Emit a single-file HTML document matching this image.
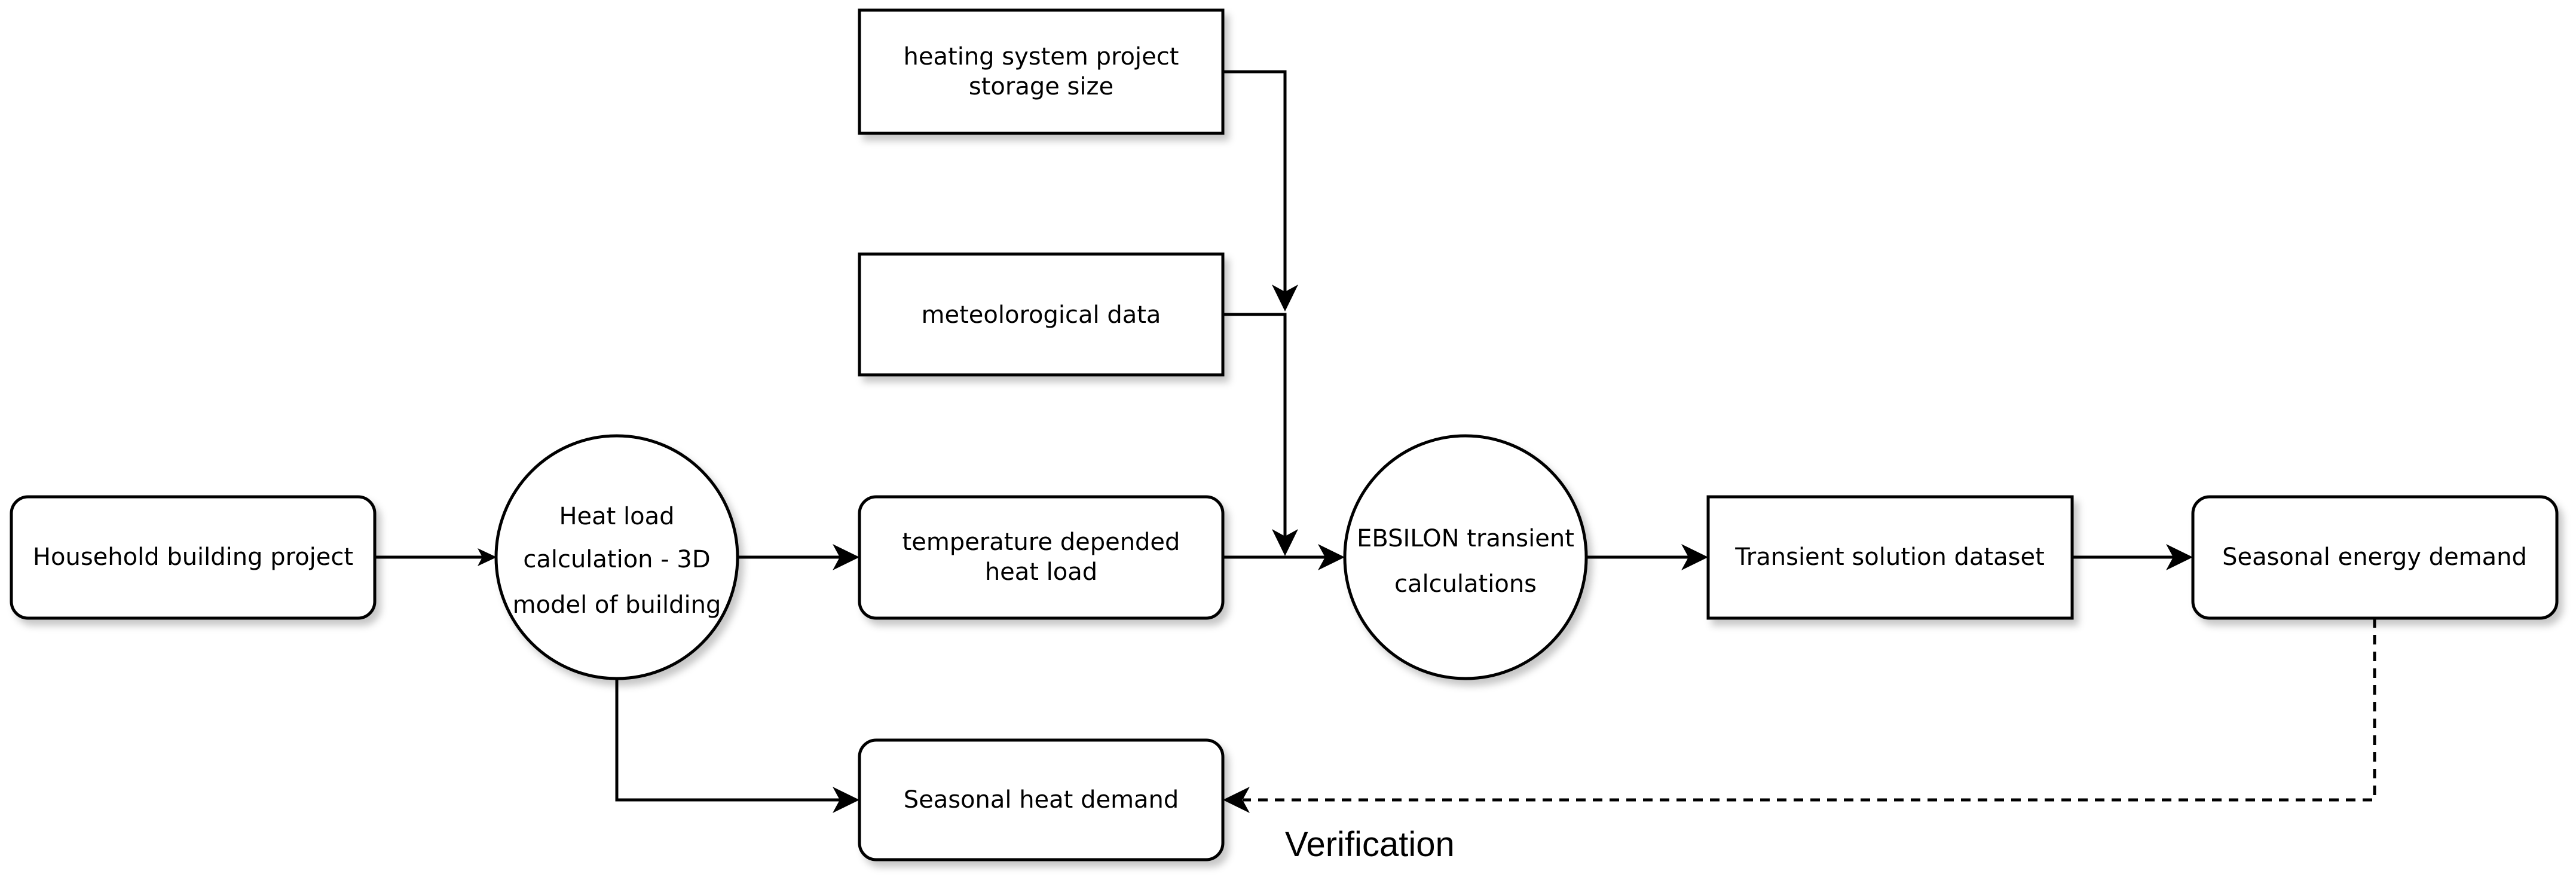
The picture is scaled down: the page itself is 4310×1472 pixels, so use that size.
<!DOCTYPE html>
<html><head><meta charset="utf-8"><style>html,body{margin:0;padding:0;background:#fff}svg{display:block}</style></head>
<body>
<svg width="4310" height="1472" viewBox="0 0 4310 1472" xmlns="http://www.w3.org/2000/svg">
<defs>
<filter id="sh" x="-10%" y="-10%" width="130%" height="140%"><feDropShadow dx="8" dy="10" stdDeviation="6" flood-color="#000" flood-opacity="0.22"/></filter>
<marker id="ar" markerWidth="12" markerHeight="10" refX="10" refY="5" orient="auto" markerUnits="userSpaceOnUse" viewBox="0 0 12 10" style="overflow:visible">
</marker>
</defs>
<g fill="#fff" stroke="#000" stroke-width="5" filter="url(#sh)">
<rect x="19" y="831" width="608" height="203" rx="28"/>
<ellipse cx="1032" cy="932" rx="202" ry="203"/>
<rect x="1438" y="831" width="608" height="203" rx="28"/>
<rect x="1438" y="17" width="608" height="206"/>
<rect x="1438" y="425" width="608" height="202"/>
<rect x="1438" y="1238" width="608" height="200" rx="28"/>
<ellipse cx="2452" cy="932" rx="202" ry="203"/>
<rect x="2858" y="831" width="609" height="203"/>
<rect x="3669" y="831" width="609" height="203" rx="28"/>
</g>
<g fill="none" stroke="#000" stroke-width="5">
<path d="M627 932H810"/>
<path d="M1234 932H1405"/>
<path d="M2046 932H2218"/>
<path d="M2654 932H2825"/>
<path d="M3467 932H3636"/>
<path d="M2046 120H2150V488"/>
<path d="M2046 526H2150V897"/>
<path d="M1032 1135V1338H1405"/>
<path d="M3973 1034V1338H2080" stroke-dasharray="16 12"/>
</g>
<g fill="#000">
<path d="M831 932l-32 -15 8 15 -8 15z"/>
<path d="M1438 932l-45 -22 12 22 -12 22z"/>
<path d="M2250 932l-45 -22 12 22 -12 22z"/>
<path d="M2858 932l-45 -22 12 22 -12 22z"/>
<path d="M3669 932l-45 -22 12 22 -12 22z"/>
<path d="M2150 521l-22 -45 22 12 22 -12z"/>
<path d="M2150 930l-22 -45 22 12 22 -12z"/>
<path d="M1438 1338l-45 -22 12 22 -12 22z"/>
<path d="M2046 1338l45 -22 -12 22 12 22z"/>
</g>
<g font-family="'DejaVu Sans',sans-serif" font-size="40" text-anchor="middle" fill="#000">
<text x="323" y="945">Household building project</text>
<text x="1032" y="877">Heat load</text>
<text x="1032" y="949">calculation - 3D</text>
<text x="1032" y="1025">model of building</text>
<text x="1742" y="920">temperature depended</text>
<text x="1742" y="970">heat load</text>
<text x="1742" y="108">heating system project</text>
<text x="1742" y="158">storage size</text>
<text x="1742" y="540">meteolorogical data</text>
<text x="1742" y="1351">Seasonal heat demand</text>
<text x="2452" y="914">EBSILON transient</text>
<text x="2452" y="990">calculations</text>
<text x="3162" y="945">Transient solution dataset</text>
<text x="3973" y="945">Seasonal energy demand</text>
</g>
<text x="2150" y="1432" font-family="'Liberation Sans',Arial,sans-serif" font-size="58" fill="#000">Verification</text>
</svg>
</body></html>
